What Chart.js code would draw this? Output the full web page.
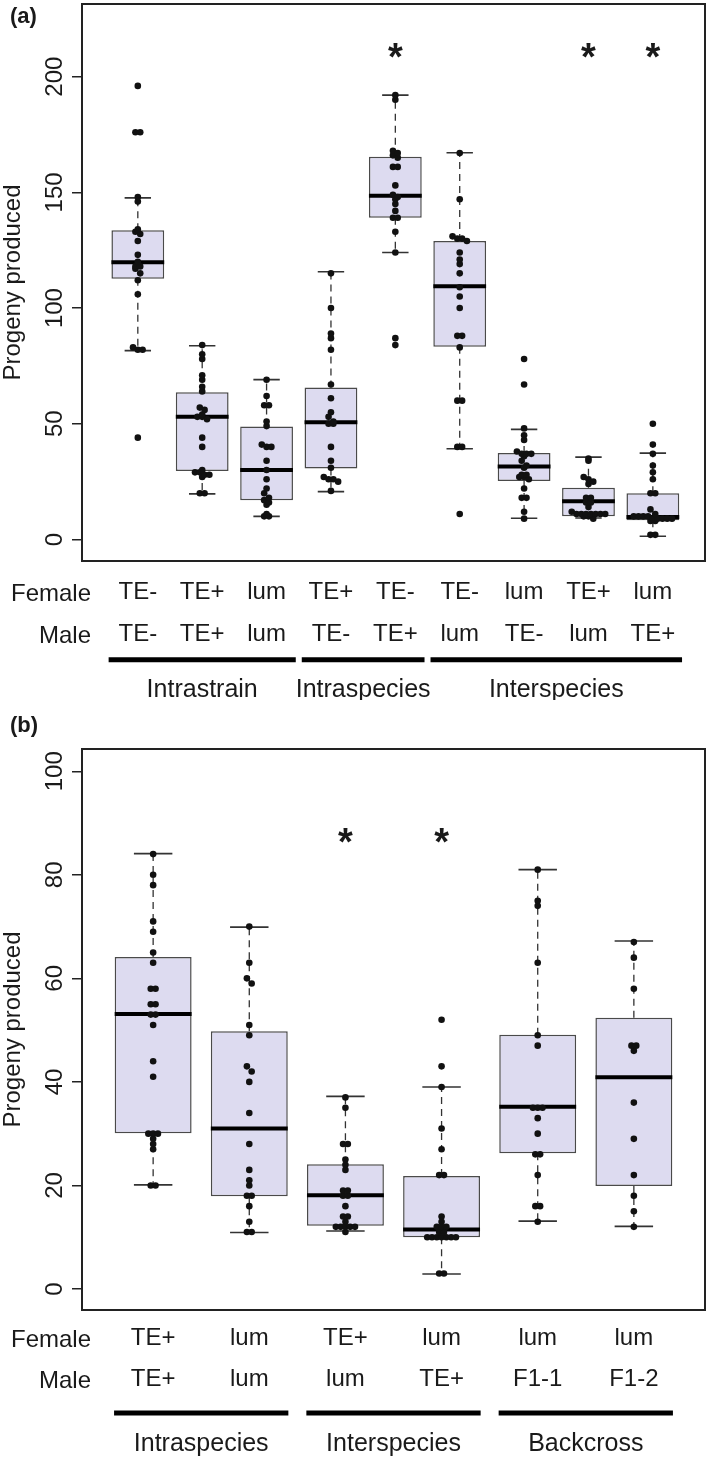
<!DOCTYPE html>
<html>
<head>
<meta charset="utf-8">
<script src="https://cdn.jsdelivr.net/npm/chart.js@4.4.0/dist/chart.umd.min.js"></script>
<style>
  html, body { margin: 0; padding: 0; background: #fff; }
  #wrap { width: 709px; height: 1459px; }
  canvas { display: block; }
</style>
</head>
<body>
<div id="wrap">
  <canvas id="chartA" width="709" height="700"></canvas>
  <canvas id="chartB" width="709" height="759"></canvas>
</div>
<script>
// ---- panel (a) ----
let femaleA = ["TE-", "TE+", "lum", "TE+", "TE-", "TE-", "lum", "TE+", "lum"];
let maleA = ["TE-", "TE+", "lum", "TE-", "TE+", "lum", "TE-", "lum", "TE+"];
let groupsA = ["Intrastrain", "Intraspecies", "Interspecies"];
let groupSizesA = [3, 2, 4];
let starsA = [false, false, false, false, true, false, false, true, true];
let starLevelA = 210;
let yTicksA = [0, 50, 100, 150, 200];
let lowA = [81.6, 19.7, 10, 20.7, 124, 39.2, 9.2, 9.3, 1.4];
let q1A = [112.7, 29.6, 16.9, 30.7, 139, 83.3, 25.3, 10, 8.3];
let medA = [119.8, 53, 30, 50.7, 148.5, 109.4, 31.5, 16.5, 9.7];
let q3A = [133.6, 63.6, 48.8, 65.7, 165.4, 129, 37.4, 22.4, 20];
let highA = [147.6, 83.7, 69.1, 115.7, 192, 167.1, 47.6, 35.6, 37.3];
let pointsA = [
  [196, 176, 176, 148, 146, 134, 133, 132, 129, 123, 120, 118, 118, 117, 115, 112, 106, 83, 82, 82, 44],
  [84, 80, 78, 71, 69, 66, 64, 57, 56, 54, 53, 53, 52, 44, 40, 30, 29, 29, 28, 28, 27, 20, 20],
  [69, 62, 58, 58, 51, 49, 41, 40, 40, 34, 30, 26, 22, 20, 18, 17, 16, 15, 11, 10, 10],
  [115, 100, 89, 87, 82, 67, 61, 55, 53, 51, 50, 50, 40, 34, 31, 27, 26, 26, 25, 21],
  [192, 190, 168, 167, 166, 165, 161, 161, 153, 149, 148, 147, 145, 142, 139, 139, 133, 124, 87, 84],
  [167, 147, 131, 130, 130, 129, 124, 121, 119, 115, 109, 105, 100, 88, 88, 83, 60, 60, 40, 40, 11],
  [78, 67, 48, 45, 43, 38, 37, 37, 37, 36, 34, 32, 31, 28, 28, 27, 27, 26, 22, 18, 18, 12, 9],
  [35, 34, 27, 26, 25, 24, 18, 18, 16, 16, 14, 12, 11, 11, 11, 11, 11, 11, 11, 10, 10, 9],
  [50, 41, 37, 32, 29, 26, 20, 20, 13, 11, 10, 10, 10, 10, 9, 9, 9, 9, 9, 8, 8, 2, 2],
];

// ---- panel (b) ----
let femaleB = ["TE+", "lum", "TE+", "lum", "lum", "lum"];
let maleB = ["TE+", "lum", "lum", "TE+", "F1-1", "F1-2"];
let groupsB = ["Intraspecies", "Interspecies", "Backcross"];
let groupSizesB = [2, 2, 2];
let starsB = [false, false, true, true, false, false];
let starLevelB = 87;
let yTicksB = [0, 20, 40, 60, 80, 100];
let lowB = [20.1, 10.9, 11.2, 2.9, 13.1, 12.1];
let q1B = [30.1, 17.9, 12.2, 10, 26.2, 19.9];
let medB = [53.1, 31, 18.1, 11.5, 35.2, 40.9];
let q3B = [64.1, 49.8, 24.1, 21.8, 49.1, 52.4];
let highB = [84.1, 69.9, 37.2, 39, 81, 67.2];
let pointsB = [
  [84, 80, 78, 71, 69, 65, 63, 58, 58, 55, 55, 53, 53, 51, 44, 41, 30, 30, 30, 29, 28, 27, 20, 20],
  [70, 63, 60, 59, 51, 49, 43, 42, 40, 34, 28, 23, 21, 20, 18, 18, 16, 13, 11, 11],
  [37, 35, 28, 28, 25, 24, 23, 19, 19, 18, 18, 16, 14, 14, 13, 12, 12, 12, 12, 12, 11],
  [52, 43, 39, 31, 27, 22, 22, 14, 13, 12, 12, 12, 11, 11, 10, 10, 10, 10, 10, 10, 10, 3, 3],
  [81, 75, 74, 63, 49, 47, 35, 35, 35, 33, 30, 26, 26, 22, 16, 16, 13],
  [67, 64, 58, 47, 47, 46, 36, 29, 22, 18, 15, 12],
];

let FONT = "'Liberation Sans', Arial, Helvetica, sans-serif";
let INK = "#1a1a1a";
Chart.defaults.font.family = FONT;
Chart.defaults.color = INK;

// beeswarm, "center" style: points that fall in the same row are spread
// evenly around the box centre
function swarmPoints(groups, unitX, unitY) {
  let out = [];
  groups.forEach((vals, i) => {
    let rows = {};
    vals.forEach((v) => {
      let key = Math.round((v * unitY) / 5.5);
      (rows[key] = rows[key] || []).push(v);
    });
    Object.values(rows).forEach((row) => {
      row.forEach((v, k) => {
        out.push({ x: i + 1 + ((k - (row.length - 1) / 2) * 4.8) / unitX, y: v });
      });
    });
  });
  return out;
}

let boxParts = {
  id: "boxParts",
  afterDatasetDraw(chart, args, p) {
    if (args.index !== 0) return;
    let ctx = chart.ctx;
    let ys = chart.scales.y;
    ctx.save();
    args.meta.data.forEach((bar, i) => {
      let x = bar.x;
      let half = bar.width / 2;
      // dashed whiskers
      ctx.strokeStyle = "#333";
      ctx.lineWidth = 1.3;
      ctx.setLineDash([7, 5]);
      ctx.beginPath();
      ctx.moveTo(x, ys.getPixelForValue(p.q3[i]));
      ctx.lineTo(x, ys.getPixelForValue(p.high[i]));
      ctx.moveTo(x, ys.getPixelForValue(p.q1[i]));
      ctx.lineTo(x, ys.getPixelForValue(p.low[i]));
      ctx.stroke();
      // staples
      ctx.setLineDash([]);
      ctx.lineWidth = 1.6;
      ctx.beginPath();
      [p.high[i], p.low[i]].forEach((v) => {
        let yy = ys.getPixelForValue(v);
        ctx.moveTo(x - half / 2, yy);
        ctx.lineTo(x + half / 2, yy);
      });
      ctx.stroke();
      // median
      ctx.strokeStyle = "#000";
      ctx.lineWidth = 4;
      let ym = ys.getPixelForValue(p.med[i]);
      ctx.beginPath();
      ctx.moveTo(x - half, ym);
      ctx.lineTo(x + half, ym);
      ctx.stroke();
    });
    ctx.restore();
  },
  afterDraw(chart, args, p) {
    let ctx = chart.ctx;
    let a = chart.chartArea;
    let xs = chart.scales.x;
    let ys = chart.scales.y;
    ctx.save();

    ctx.strokeStyle = "#222";
    ctx.lineWidth = 2;
    ctx.strokeRect(a.left, a.top, a.right - a.left, a.bottom - a.top);

    // y tick labels reading upwards
    ctx.fillStyle = INK;
    ctx.font = "24px " + FONT;
    ctx.textAlign = "center";
    ctx.textBaseline = "alphabetic";
    ys.ticks.forEach((t) => {
      ctx.save();
      ctx.translate(a.left - 20, ys.getPixelForValue(t.value));
      ctx.rotate(-Math.PI / 2);
      ctx.fillText(String(t.value), 0, 0);
      ctx.restore();
    });

    ctx.textAlign = "right";
    ctx.fillText("Female", 91, a.bottom + p.rows[0]);
    ctx.fillText("Male", 91, a.bottom + p.rows[1]);

    ctx.font = "25px " + FONT;
    let first = 1;
    p.groups.forEach((g, k) => {
      let last = first + p.sizes[k] - 1;
      let x0 = xs.getPixelForValue(first - 0.5) + p.gap;
      let x1 = xs.getPixelForValue(last + 0.5) - p.gap;
      ctx.strokeStyle = "#000";
      ctx.lineWidth = 5;
      ctx.beginPath();
      ctx.moveTo(x0, a.bottom + p.barAt);
      ctx.lineTo(x1, a.bottom + p.barAt);
      ctx.stroke();
      ctx.textAlign = "center";
      ctx.fillText(g, (x0 + x1) / 2, a.bottom + p.nameAt);
      first = last + 1;
    });

    ctx.font = "bold 38px " + FONT;
    ctx.textAlign = "center";
    p.stars.forEach((s, i) => {
      if (s) ctx.fillText("*", xs.getPixelForValue(i + 1), ys.getPixelForValue(p.starLevel) + 16);
    });

    ctx.font = "bold 22px " + FONT;
    ctx.textAlign = "left";
    ctx.fillText(p.tag, 10, p.tagY);
    ctx.restore();
  },
};

function drawPanel(id, d) {
  let unitX = 625 / (d.xMax - d.xMin);
  let unitY = d.plotH / (d.yMax - d.yMin);
  return new Chart(document.getElementById(id), {
    type: "bar",
    data: {
      datasets: [
        {
          type: "bar",
          data: d.q1.map((q, i) => ({ x: i + 1, y: [q, d.q3[i]] })),
          backgroundColor: "#dddbf0",
          borderColor: "#4a4a4a",
          borderWidth: 1.5,
          borderSkipped: false,
          barPercentage: d.boxWidth,
          categoryPercentage: 1,
          order: 2,
        },
        {
          type: "scatter",
          data: swarmPoints(d.points, unitX, unitY),
          pointRadius: 3.3,
          pointBackgroundColor: "#111",
          pointBorderWidth: 0,
          order: 1,
        },
      ],
    },
    options: {
      responsive: false,
      animation: false,
      devicePixelRatio: 1,
      events: [],
      layout: { padding: { top: d.padTop, right: 2, left: 0, bottom: 0 } },
      scales: {
        x: {
          type: "linear",
          offset: false,
          min: d.xMin,
          max: d.xMax,
          afterFit: (s) => { s.height = d.axisH; },
          afterBuildTicks: (s) => { s.ticks = d.female.map((f, i) => ({ value: i + 1 })); },
          ticks: {
            autoSkip: false,
            minRotation: 0,
            maxRotation: 0,
            padding: d.labelPad,
            color: INK,
            font: { size: 24, lineHeight: d.lineH },
            callback: (v, i) => [d.female[i], d.male[i]],
          },
          grid: { display: false, drawTicks: false, offset: false },
          border: { display: false },
        },
        y: {
          min: d.yMin,
          max: d.yMax,
          afterFit: (s) => { s.width = 82; },
          afterBuildTicks: (s) => { s.ticks = d.yTicks.map((v) => ({ value: v })); },
          ticks: { display: false },
          grid: { drawOnChartArea: false, drawTicks: true, tickLength: 10, color: "#222", lineWidth: 1.5 },
          border: { display: false },
          title: {
            display: true,
            text: "Progeny produced",
            color: INK,
            padding: 0,
            font: { size: 24, lineHeight: 1.15 },
          },
        },
      },
      plugins: {
        legend: { display: false },
        tooltip: { enabled: false },
        boxParts: {
          q1: d.q1, q3: d.q3, med: d.med, low: d.low, high: d.high,
          stars: d.stars, starLevel: d.starLevel,
          groups: d.groups, sizes: d.sizes, gap: d.gap,
          rows: d.rows, barAt: d.barAt, nameAt: d.nameAt,
          tag: d.tag, tagY: d.tagY,
        },
      },
    },
    plugins: [boxParts],
  });
}

drawPanel("chartA", {
  female: femaleA, male: maleA, groups: groupsA, sizes: groupSizesA,
  stars: starsA, starLevel: starLevelA, yTicks: yTicksA,
  low: lowA, q1: q1A, med: medA, q3: q3A, high: highA, points: pointsA,
  xMin: 0.133, xMax: 9.81, yMin: -9.3, yMax: 231.4, plotH: 560,
  boxWidth: 0.82, padTop: 1, axisH: 139, labelPad: 10, lineH: 1.75,
  rows: [39.7, 81.7], barAt: 98.7, nameAt: 136, gap: 3,
  tag: "(a)", tagY: 23,
});

drawPanel("chartB", {
  female: femaleB, male: maleB, groups: groupsB, sizes: groupSizesB,
  stars: starsB, starLevel: starLevelB, yTicks: yTicksB,
  low: lowB, q1: q1B, med: medB, q3: q3B, high: highB, points: pointsB,
  xMin: 0.26, xMax: 6.74, yMin: -4.06, yMax: 104.3, plotH: 561,
  boxWidth: 0.8, padTop: 49, axisH: 149, labelPad: 7, lineH: 1.74,
  rows: [36.7, 78.4], barAt: 103, nameAt: 141, gap: 9,
  tag: "(b)", tagY: 32,
});
</script>
</body>
</html>
